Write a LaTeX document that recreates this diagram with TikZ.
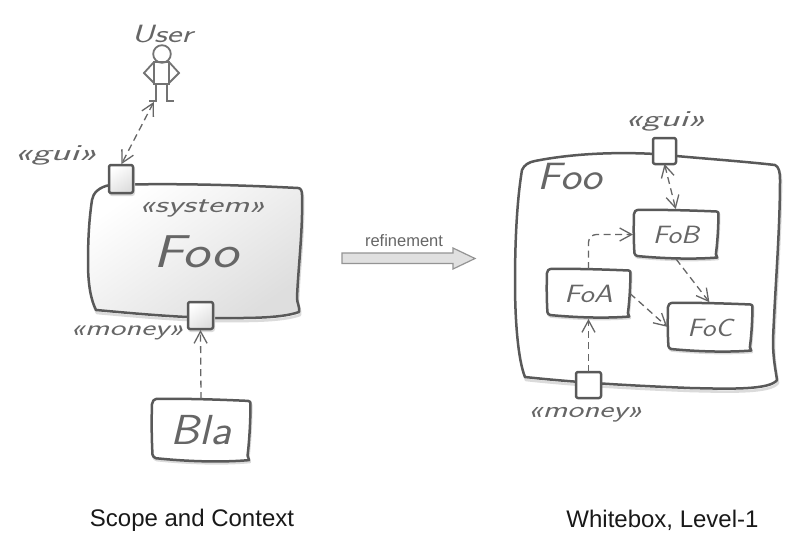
\documentclass[tikz,border=0pt]{standalone}
\usepackage{fontspec}
\usepackage{graphicx}
\usetikzlibrary{arrows.meta}
\newfontfamily\capfont{Liberation Sans}
\definecolor{linegray}{HTML}{595959}
\definecolor{conngray}{HTML}{666666}
\definecolor{txtgray}{HTML}{666666}
\newcommand{\handfont}{\sffamily\slshape}
\tikzset{
  x=1pt,y=-1pt,
  sketch/.style={draw=linegray,line width=2.5pt,line join=round,line cap=round},
  shadowline/.style={draw=black!14,line width=2.6pt,line join=round},
  anchorbox/.style={inner sep=0pt,outer sep=0pt,rectangle},
  hand/.style={inner sep=0pt,text=txtgray},
  conn/.style={draw=conngray,line width=1.3pt,dash pattern=on 7pt off 4.5pt,shorten >=1pt},
  tipone/.style={-{Straight Barb[length=12pt,width=13pt,line width=1.3pt]}},
  tiptwo/.style={{Straight Barb[length=12pt,width=13pt,line width=1.3pt]}-{Straight Barb[length=12pt,width=13pt,line width=1.3pt]}},
  figure/.style={draw=black!55,line width=1.8pt},
  captext/.style={inner sep=0pt,text=black!90,font=\capfont\fontsize{24}{28}\selectfont},
}
% normalised outline of a hand-drawn box, in a 100 x 100 cell
\newcommand{\wobble}{(4,0) .. controls (35,-1) and (70,1) .. (98,3)
  .. controls (100,3.5) and (100.5,5) .. (100.5,7)
  .. controls (100.5,40) and (99,70) .. (97.5,90)
  .. controls (98,93) and (99,95) .. (99,97)
  .. controls (70,101) and (35,99) .. (4,94)
  .. controls (2,93) and (1,91) .. (0.5,88)
  .. controls (-0.5,60) and (-0.5,30) .. (0,8)
  .. controls (0.5,3) and (2,0.5) .. (4,0) -- cycle}
% name, left, top, width, height, text
\newcommand{\sketchbox}[6]{%
  \begin{scope}[shift={(#2,#3)},xscale=#4/100,yscale=#5/100]
    \path[shadowline,shift={(0.8,3)}] \wobble;
    \path[sketch,fill=white] \wobble;
  \end{scope}
  \node[anchorbox,minimum width=#4pt,minimum height=#5pt,text=txtgray] (#1) at (#2+#4/2,#3+#5/2) {#6};}
\newcommand{\sketchport}[5]{%
  \path[draw=black!14,line width=2pt,rounded corners=2pt] (#2+1,#3+2) rectangle (#2+#4+1,#3+#5+2);
  \path[sketch,rounded corners=2pt,top color=white,bottom color=black!13,shading angle=35] (#2,#3) rectangle (#2+#4,#3+#5);
  \node[anchorbox,minimum width=#4pt,minimum height=#5pt] (#1) at (#2+#4/2,#3+#5/2) {};}
\newcommand{\plainport}[5]{%
  \path[sketch,rounded corners=2pt,fill=white] (#2,#3) rectangle (#2+#4,#3+#5);
  \node[anchorbox,minimum width=#4pt,minimum height=#5pt] (#1) at (#2+#4/2,#3+#5/2) {};}
\begin{document}
\begin{tikzpicture}
\useasboundingbox (0,0) rectangle (795,554);
\fill[white] (0,0) rectangle (795,554);

% ---------- left: scope and context
\node[hand,font=\handfont\fontsize{25}{28}\selectfont] (usertxt) at (162,34) {\scalebox{1.4}[1]{User}};
\draw[figure,fill=white] (162,54) circle[radius=8.8];
\draw[figure] (154,62) rectangle (169,84);
\draw[figure] (154,62) -- (144,73) -- (154,83);
\draw[figure] (169,62) -- (179,73) -- (169,83);
\draw[figure] (156,84) -- (156,101) -- (149,101);
\draw[figure] (167,84) -- (167,101) -- (174,101);
\node[anchorbox,minimum width=36pt,minimum height=58pt] (user) at (161,73) {};

\newcommand{\sysoutline}{(110,185) .. controls (170,183) and (240,185) .. (298,188)
  .. controls (301,188) and (302,191) .. (302,195)
  .. controls (303,230) and (298,270) .. (297,298)
  .. controls (297,303) and (300,307) .. (299,312)
  .. controls (280,319) and (240,318) .. (215,318)
  .. controls (170,317) and (130,313) .. (96,310)
  .. controls (91,300) and (88,285) .. (88,263)
  .. controls (88,240) and (89,220) .. (92,200)
  .. controls (93,193) and (99,187) .. (110,185) -- cycle}
\path[shadowline,shift={(1,3)}] \sysoutline;
\path[sketch,top color=white,bottom color=black!13,shading angle=35] \sysoutline;
\sketchport{guiL}{109}{165}{24}{28}
\sketchport{moneyL}{188}{302}{25}{27}
\node[hand,font=\handfont\fontsize{23}{26}\selectfont] (guiLtxt) at (55.5,155) {\scalebox{1.75}[1]{«gui»}};
\node[hand,font=\handfont\fontsize{23}{26}\selectfont] (systxt) at (202,208) {\scalebox{1.55}[1]{«system»}};
\node[hand,font=\handfont\fontsize{46}{50}\selectfont] (footxt) at (196,252) {\scalebox{1.25}[1]{Foo}};
\node[hand,font=\handfont\fontsize{22}{26}\selectfont] (moneyLtxt) at (127,333) {\scalebox{1.5}[1]{«money»}};
\sketchbox{bla}{152}{399}{98}{63}{\handfont\fontsize{42}{46}\selectfont\scalebox{1.1}[1]{Bla}}

\draw[conn,tiptwo] (user.-104) -- (guiL.north);
\draw[conn,tipone] (bla.north) -- (moneyL.south);

% ---------- centre arrow
\node[inner sep=0pt,text=txtgray,font=\capfont\fontsize{16.5}{19}\selectfont] (reftxt) at (404,241) {refinement};
\path[draw=black!42,line width=1.2pt,fill=black!12]
  (342,253) -- (453,253) -- (453,248) -- (475,258.5) -- (453,269) -- (453,263.5) -- (342,263.5) -- cycle;

% ---------- right: whitebox
\newcommand{\whiteoutline}{(535,161) .. controls (575,153) and (620,152) .. (655,154)
  .. controls (695,158) and (740,161) .. (775,165)
  .. controls (779,167) and (780,172) .. (780,180)
  .. controls (780,230) and (775,290) .. (773,340)
  .. controls (773,360) and (776,372) .. (777,380)
  .. controls (770,390) and (730,389) .. (690,388)
  .. controls (640,386) and (580,383) .. (525,377)
  .. controls (518,360) and (515,320) .. (515,283)
  .. controls (515,240) and (517,200) .. (522,170)
  .. controls (524,165) and (529,162) .. (535,161) -- cycle}
\path[shadowline,shift={(1,3)}] \whiteoutline;
\path[sketch,fill=white] \whiteoutline;
\plainport{guiR}{653}{138}{23}{26}
\plainport{moneyR}{576}{372}{25}{26}
\node[hand,font=\handfont\fontsize{23}{26}\selectfont] (guiRtxt) at (665,121) {\scalebox{1.7}[1]{«gui»}};
\node[hand,font=\handfont\fontsize{38}{42}\selectfont] (fooRtxt) at (570,177) {\scalebox{1.15}[1]{Foo}};
\node[hand,font=\handfont\fontsize{23}{26}\selectfont] (moneyRtxt) at (585,415) {\scalebox{1.45}[1]{«money»}};
\sketchbox{fob}{634}{210}{84}{49}{\handfont\fontsize{25}{28}\selectfont\scalebox{1.15}[1]{FoB}}
\sketchbox{foa}{547}{269}{83}{49}{\handfont\fontsize{25}{28}\selectfont\scalebox{1.2}[1]{FoA}}
\sketchbox{foc}{668}{303}{84}{49}{\handfont\fontsize{25}{28}\selectfont\scalebox{1.15}[1]{FoC}}

\draw[conn,tiptwo] (guiR.south) -- (fob.north);
\draw[conn,tipone,rounded corners=8pt] (foa.north) |- (fob.west);
\draw[conn,tipone] (fob.south) -- (foc.north);
\draw[conn,tipone] (foa.east) -- (foc.west);
\draw[conn,tipone] (moneyR.north) -- (foa.south);

% ---------- captions
\node[captext] (capL) at (192,520) {Scope and Context};
\node[captext] (capR) at (662.5,520) {Whitebox, Level-1};
\end{tikzpicture}
\end{document}
